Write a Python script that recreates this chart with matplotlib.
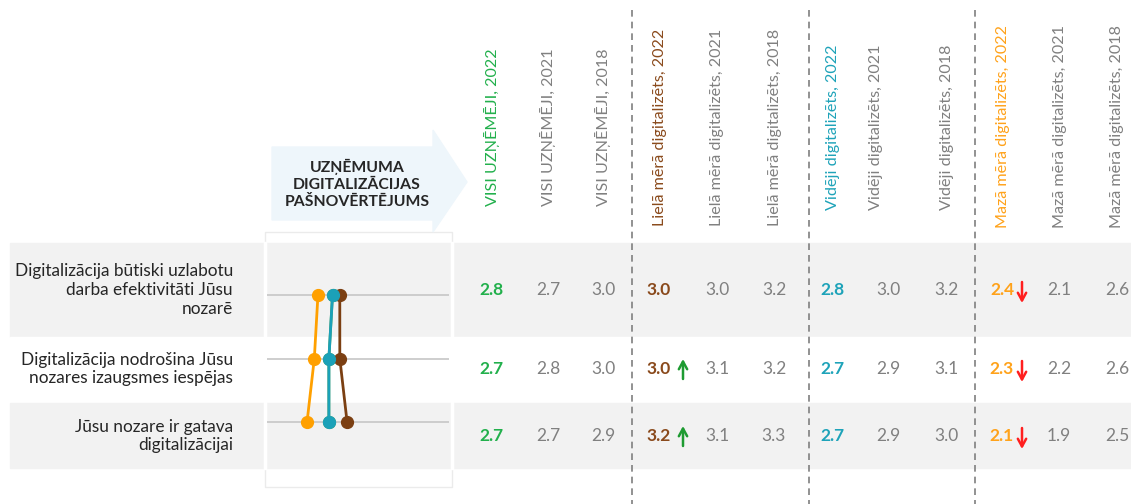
import matplotlib.pyplot as plt
from matplotlib.patches import Polygon, Rectangle

# ---- data ---------------------------------------------------------------
statements = [
    "Digitalizācija būtiski uzlabotu\ndarba efektivitāti Jūsu\nnozarē",
    "Digitalizācija nodrošina Jūsu\nnozares izaugsmes iespējas",
    "Jūsu nozare ir gatava\ndigitalizācijai",
]

columns = [
    "VISI UZŅĒMĒJI, 2022", "VISI UZŅĒMĒJI, 2021", "VISI UZŅĒMĒJI, 2018",
    "Lielā mērā digitalizēts, 2022", "Lielā mērā digitalizēts, 2021", "Lielā mērā digitalizēts, 2018",
    "Vidēji digitalizēts, 2022", "Vidēji digitalizēts, 2021", "Vidēji digitalizēts, 2018",
    "Mazā mērā digitalizēts, 2022", "Mazā mērā digitalizēts, 2021", "Mazā mērā digitalizēts, 2018",
]

visi_2022 = [2.8, 2.7, 2.7]
visi_2021 = [2.7, 2.8, 2.7]
visi_2018 = [3.0, 3.0, 2.9]
liela_2022 = [3.0, 3.0, 3.2]
liela_2021 = [3.0, 3.1, 3.1]
liela_2018 = [3.2, 3.2, 3.3]
videji_2022 = [2.8, 2.7, 2.7]
videji_2021 = [3.0, 2.9, 2.9]
videji_2018 = [3.2, 3.1, 3.0]
maza_2022 = [2.4, 2.3, 2.1]
maza_2021 = [2.1, 2.2, 1.9]
maza_2018 = [2.6, 2.6, 2.5]

liela_trend = [None, "up", "up"]
maza_trend = ["down", "down", "down"]

# ---- style --------------------------------------------------------------
GREEN = "#22b04c"
BROWN = "#8a4a1c"
TEAL = "#1ea3b9"
ORANGE = "#ffa21a"
GREY = "#808080"
BAND = "#f2f2f2"
FONT = "Lato"

table = [visi_2022, visi_2021, visi_2018,
         liela_2022, liela_2021, liela_2018,
         videji_2022, videji_2021, videji_2018,
         maza_2022, maza_2021, maza_2018]
col_colors = [GREEN, GREY, GREY, BROWN, GREY, GREY,
              TEAL, GREY, GREY, ORANGE, GREY, GREY]
col_x = [491, 548, 603, 659, 717, 774, 832, 888, 946, 1002, 1059, 1117]
head_x = [492, 548, 603, 660, 717, 775, 833, 876, 947, 1003, 1060, 1117]
row_y = [290, 369, 436]
bands = [(243, 337, BAND), (337, 403, "white"), (403, 468, BAND)]

fig = plt.figure(figsize=(11.31, 5.04), dpi=100)
ax = fig.add_axes([0, 0, 1, 1])
ax.set_xlim(0, 1131)
ax.set_ylim(504, 0)
ax.axis("off")

# row bands
for top, bottom, c in bands:
    ax.add_patch(Rectangle((10, top), 1121, bottom - top, color=c, zorder=0))

# frame around the dot plot
ax.add_patch(Rectangle((265, 232), 187, 255, fill=False, ec="#ebebeb", lw=1, zorder=1))
ax.plot([265, 265], [243, 468], color="white", lw=2.5, zorder=1)
ax.plot([452, 452], [243, 468], color="white", lw=2.5, zorder=1)

# header arrow
arrow = [(272, 147), (433, 147), (433, 130), (467, 182), (433, 232),
         (433, 220), (272, 220)]
ax.add_patch(Polygon(arrow, closed=True, color="#eef6fb", zorder=1))
ax.text(357, 184, "UZŅĒMUMA\nDIGITALIZĀCIJAS\nPAŠNOVĒRTĒJUMS", ha="center",
        va="center", fontsize=11.3, fontweight="bold", color="#262626",
        family=FONT, linespacing=1.3, zorder=2)

# dashed separators
for x in [632, 809, 975]:
    ax.plot([x, x], [10, 504], color="#7f7f7f", lw=1.2, ls=(0, (4, 3)), zorder=2)

# column headers
for name, x, c in zip(columns, head_x, col_colors):
    ax.text(x, 127, name, rotation=90, ha="center", va="center",
            rotation_mode="anchor", fontsize=11.6, color=c, family=FONT)

# statements
for s, y in zip(statements, row_y):
    ax.text(233, y, s, ha="right", va="center", fontsize=12.4, color="#262626",
            family=FONT, linespacing=1.2)

# values
for j, (vals, x, c) in enumerate(zip(table, col_x, col_colors)):
    bold = j % 3 == 0
    for v, y in zip(vals, row_y):
        ax.text(x, y, f"{v:.1f}", ha="center", va="center", fontsize=12.5,
                color=c, family=FONT, fontweight="bold" if bold else "normal")

# trend arrows
style = "->,head_length=0.55,head_width=0.3"
for trends, x in [(liela_trend, 683), (maza_trend, 1022)]:
    for t, y in zip(trends, row_y):
        if t is None:
            continue
        if t == "up":
            ax.annotate("", xy=(x, y - 10), xytext=(x, y + 10),
                        arrowprops=dict(arrowstyle=style, color="#1e9b32", lw=1.8,
                                        shrinkA=0, shrinkB=0))
        else:
            ax.annotate("", xy=(x, y + 13), xytext=(x, y - 8),
                        arrowprops=dict(arrowstyle=style, color="#ff1f1f", lw=1.8,
                                        shrinkA=0, shrinkB=0))

# ---- dot plot -----------------------------------------------------------
dax = fig.add_axes([267 / 1131, 1 - 468 / 504, 182 / 1131, 225 / 504])
dax.patch.set_alpha(0)
dax.set_xlim(1, 6)
dax.set_ylim(2.724, -0.819)
for i in range(len(statements)):
    dax.axhline(i, color="#c6c6c6", lw=1.2, zorder=0)
rows = list(range(len(statements)))
for vals, c in [(visi_2022, "#5a9e4a"), (liela_2022, "#7b3f12"),
                (maza_2022, "#ffa000"), (videji_2022, "#1ba1b8")]:
    dax.plot(vals, rows, color=c, lw=2, marker="o", ms=8.5, zorder=3)
dax.axis("off")

fig.savefig("out.png", dpi=100)
